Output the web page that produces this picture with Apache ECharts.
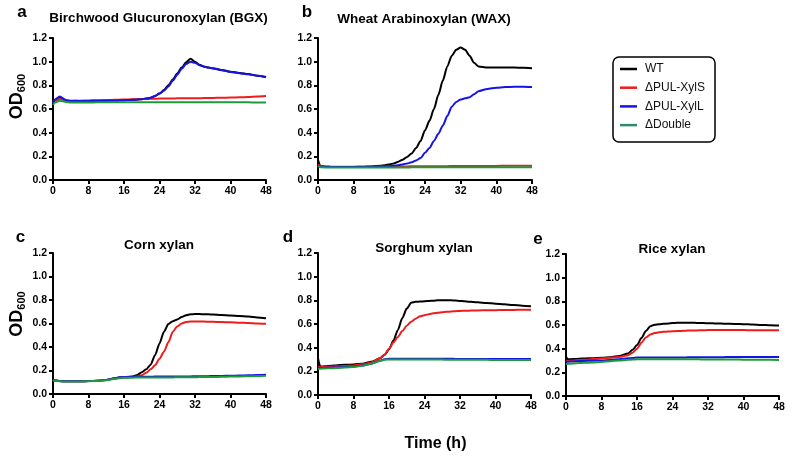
<!DOCTYPE html>
<html><head><meta charset="utf-8">
<script src="https://cdn.jsdelivr.net/npm/echarts@6/dist/echarts.min.js"></script>
<style>html,body{margin:0;padding:0;background:#fff}#c{width:800px;height:462px}</style>
</head><body><div id="c"></div>
<script>
// ---------- DATA ----------
const hours = [0,0.5,1.5,3,4,6,8,10,12,14,15,16,17,18,19,20,21,22,23,24,25,26,27,28,29,30,31,32,33,34,35,36,38,40,42,44,46,48];
const seriesNames = ['WT','ΔPUL-XylS','ΔPUL-XylL','ΔDouble'];
const panelLetters = ['a','b','c','d','e'];
const panelTitles = ['Birchwood Glucuronoxylan (BGX)','Wheat Arabinoxylan (WAX)','Corn xylan','Sorghum xylan','Rice xylan'];
const xTicks = [0,8,16,24,32,40,48];
const yTicks = [0,0.2,0.4,0.6,0.8,1.0,1.2];
const yLabel = 'OD';
const ySub = '600';
const xLabel = 'Time (h)';

// a: Birchwood Glucuronoxylan
const bgxWT     = [0.66,0.68,0.70,0.67,0.665,0.665,0.667,0.668,0.67,0.672,0.673,0.675,0.676,0.678,0.68,0.683,0.688,0.695,0.71,0.73,0.76,0.80,0.85,0.90,0.95,0.995,1.025,1.0,0.975,0.96,0.95,0.945,0.93,0.915,0.905,0.895,0.882,0.87];
const bgxXylS   = [0.65,0.67,0.685,0.67,0.668,0.67,0.672,0.674,0.676,0.678,0.679,0.68,0.681,0.682,0.683,0.684,0.685,0.686,0.687,0.688,0.688,0.689,0.689,0.69,0.69,0.69,0.69,0.69,0.691,0.692,0.693,0.694,0.695,0.697,0.699,0.701,0.706,0.71];
const bgxXylL   = [0.65,0.68,0.705,0.675,0.67,0.668,0.668,0.67,0.67,0.672,0.673,0.675,0.676,0.678,0.68,0.683,0.688,0.695,0.71,0.73,0.755,0.79,0.84,0.89,0.94,0.98,1.0,0.99,0.97,0.958,0.95,0.943,0.928,0.913,0.903,0.893,0.88,0.868];
const bgxDouble = [0.635,0.655,0.67,0.66,0.655,0.655,0.655,0.656,0.656,0.657,0.657,0.657,0.658,0.658,0.658,0.658,0.658,0.658,0.658,0.658,0.658,0.658,0.658,0.658,0.658,0.658,0.658,0.658,0.658,0.658,0.657,0.657,0.657,0.657,0.656,0.656,0.655,0.655];

// b: Wheat Arabinoxylan
const waxWT     = [0.17,0.12,0.112,0.11,0.11,0.11,0.11,0.112,0.115,0.12,0.125,0.132,0.14,0.155,0.172,0.195,0.225,0.27,0.33,0.42,0.50,0.60,0.72,0.84,0.96,1.05,1.10,1.12,1.10,1.05,0.99,0.96,0.95,0.95,0.95,0.95,0.948,0.945];
const waxXylS   = [0.13,0.12,0.113,0.112,0.112,0.112,0.112,0.113,0.113,0.114,0.114,0.114,0.115,0.115,0.115,0.115,0.116,0.116,0.116,0.116,0.117,0.117,0.117,0.117,0.117,0.118,0.118,0.118,0.118,0.118,0.119,0.119,0.119,0.119,0.12,0.12,0.12,0.12];
const waxXylL   = [0.12,0.115,0.112,0.11,0.11,0.11,0.11,0.11,0.111,0.112,0.114,0.116,0.12,0.125,0.132,0.14,0.15,0.165,0.185,0.23,0.27,0.33,0.39,0.46,0.54,0.62,0.66,0.68,0.69,0.70,0.725,0.75,0.77,0.78,0.785,0.787,0.787,0.785];
const waxDouble = [0.12,0.108,0.106,0.105,0.105,0.105,0.105,0.105,0.106,0.106,0.106,0.106,0.106,0.106,0.106,0.106,0.107,0.107,0.107,0.107,0.107,0.107,0.107,0.107,0.107,0.108,0.108,0.108,0.108,0.108,0.108,0.108,0.108,0.108,0.108,0.108,0.108,0.108];

// c: Corn xylan
const cornWT     = [0.12,0.115,0.11,0.108,0.108,0.108,0.11,0.112,0.12,0.133,0.14,0.142,0.145,0.15,0.162,0.185,0.21,0.25,0.33,0.43,0.53,0.595,0.62,0.635,0.655,0.67,0.678,0.68,0.68,0.679,0.678,0.676,0.672,0.668,0.664,0.66,0.652,0.645];
const cornXylS   = [0.12,0.115,0.11,0.108,0.108,0.108,0.11,0.112,0.12,0.133,0.14,0.142,0.143,0.145,0.15,0.16,0.18,0.21,0.245,0.30,0.36,0.44,0.53,0.575,0.60,0.612,0.618,0.618,0.617,0.616,0.615,0.614,0.612,0.61,0.607,0.604,0.601,0.598];
const cornXylL   = [0.12,0.115,0.11,0.108,0.108,0.108,0.11,0.112,0.12,0.135,0.142,0.145,0.146,0.147,0.147,0.147,0.147,0.147,0.148,0.148,0.148,0.148,0.149,0.149,0.15,0.15,0.15,0.151,0.151,0.152,0.152,0.153,0.154,0.155,0.157,0.159,0.161,0.163];
const cornDouble = [0.115,0.112,0.108,0.106,0.106,0.107,0.109,0.111,0.118,0.13,0.135,0.138,0.139,0.139,0.14,0.14,0.14,0.14,0.14,0.141,0.141,0.141,0.141,0.142,0.142,0.143,0.143,0.143,0.144,0.144,0.145,0.145,0.146,0.148,0.15,0.151,0.153,0.155];

// d: Sorghum xylan
const sorgWT     = [0.31,0.24,0.243,0.247,0.25,0.255,0.258,0.265,0.28,0.31,0.34,0.385,0.46,0.55,0.65,0.73,0.78,0.787,0.79,0.792,0.795,0.797,0.80,0.80,0.80,0.80,0.798,0.795,0.792,0.789,0.786,0.783,0.778,0.772,0.766,0.76,0.755,0.75];
const sorgXylS   = [0.24,0.235,0.238,0.24,0.242,0.245,0.25,0.26,0.275,0.31,0.34,0.39,0.445,0.49,0.54,0.585,0.62,0.645,0.665,0.675,0.683,0.69,0.695,0.70,0.703,0.706,0.708,0.71,0.712,0.713,0.714,0.715,0.716,0.717,0.718,0.719,0.72,0.72];
const sorgXylL   = [0.23,0.228,0.23,0.232,0.233,0.236,0.24,0.25,0.265,0.29,0.303,0.307,0.307,0.307,0.306,0.306,0.306,0.306,0.306,0.306,0.306,0.306,0.306,0.306,0.306,0.306,0.305,0.305,0.305,0.305,0.305,0.305,0.305,0.305,0.305,0.305,0.305,0.305];
const sorgDouble = [0.22,0.222,0.224,0.226,0.228,0.232,0.237,0.247,0.265,0.288,0.298,0.30,0.30,0.30,0.30,0.30,0.30,0.30,0.30,0.299,0.299,0.299,0.299,0.299,0.298,0.298,0.298,0.298,0.298,0.297,0.297,0.297,0.297,0.296,0.296,0.296,0.295,0.295];

// e: Rice xylan
const riceWT     = [0.33,0.31,0.312,0.315,0.317,0.32,0.323,0.328,0.338,0.36,0.39,0.43,0.49,0.55,0.59,0.603,0.607,0.61,0.613,0.616,0.618,0.62,0.62,0.619,0.618,0.617,0.616,0.615,0.614,0.613,0.612,0.611,0.609,0.607,0.604,0.601,0.598,0.595];
const riceXylS   = [0.29,0.295,0.30,0.305,0.307,0.312,0.318,0.323,0.33,0.345,0.365,0.40,0.45,0.495,0.52,0.532,0.538,0.542,0.545,0.547,0.549,0.55,0.552,0.553,0.554,0.555,0.556,0.557,0.557,0.557,0.557,0.557,0.557,0.557,0.556,0.556,0.555,0.555];
const riceXylL   = [0.29,0.29,0.292,0.295,0.296,0.298,0.30,0.305,0.31,0.318,0.322,0.325,0.325,0.325,0.325,0.325,0.325,0.325,0.326,0.326,0.326,0.326,0.326,0.327,0.327,0.327,0.327,0.328,0.328,0.328,0.328,0.329,0.329,0.33,0.33,0.33,0.33,0.33];
const riceDouble = [0.27,0.272,0.275,0.278,0.28,0.284,0.288,0.294,0.30,0.306,0.308,0.31,0.31,0.31,0.31,0.31,0.31,0.31,0.31,0.31,0.31,0.31,0.31,0.31,0.31,0.31,0.309,0.309,0.309,0.309,0.308,0.308,0.308,0.307,0.307,0.306,0.306,0.305];

const panelData = [
  [bgxWT, bgxXylS, bgxXylL, bgxDouble],
  [waxWT, waxXylS, waxXylL, waxDouble],
  [cornWT, cornXylS, cornXylL, cornDouble],
  [sorgWT, sorgXylS, sorgXylL, sorgDouble],
  [riceWT, riceXylS, riceXylL, riceDouble]
];

// ---------- LAYOUT / STYLE ----------
const FONT = '"Liberation Sans", Arial, Helvetica, sans-serif';
const colors = ['#000000', '#ee1c1c', '#1414e6', '#1f9a3a'];
const legendColors = ['#000000', '#ee1c1c', '#1414e6', '#2e8b6e'];
const grids = [
  {left: 53, top: 38, width: 213, height: 142},
  {left: 318, top: 38, width: 214, height: 142},
  {left: 53, top: 253, width: 213, height: 141},
  {left: 318, top: 253, width: 213, height: 142},
  {left: 566, top: 254, width: 213, height: 142}
];
const letterPos = [[22, 12], [307, 12], [20.5, 237], [288, 237], [538, 239]];
const titlePos = [[158.5, 18], [424, 19.5], [159, 245.5], [424, 248], [672, 249.5]];
const odPos = [[17, 96.5], [17, 314]];

const axisCommon = {
  axisLine: {show: true, onZero: false, lineStyle: {color: '#000', width: 2}},
  axisTick: {show: true, inside: false, length: 4, lineStyle: {color: '#000', width: 2}},
  splitLine: {show: false},
  axisLabel: {color: '#000', fontSize: 10.5, fontWeight: 'bold', fontFamily: FONT}
};

const option = {
  animation: false,
  backgroundColor: '#fff',
  grid: grids.map(g => Object.assign({containLabel: false, outerBoundsMode: 'none'}, g)),
  xAxis: grids.map((g, i) => ({
    gridIndex: i, type: 'value', min: xTicks[0], max: xTicks[xTicks.length - 1], interval: xTicks[1] - xTicks[0],
    axisLine: axisCommon.axisLine, axisTick: axisCommon.axisTick, splitLine: axisCommon.splitLine,
    axisLabel: Object.assign({margin: 6, showMinLabel: true, showMaxLabel: true}, axisCommon.axisLabel)
  })),
  yAxis: grids.map((g, i) => ({
    gridIndex: i, type: 'value', min: yTicks[0], max: yTicks[yTicks.length - 1], interval: yTicks[1] - yTicks[0],
    axisLine: axisCommon.axisLine, axisTick: axisCommon.axisTick, splitLine: axisCommon.splitLine,
    axisLabel: Object.assign({margin: 6, formatter: v => v.toFixed(1)}, axisCommon.axisLabel)
  })),
  legend: {
    orient: 'vertical', left: 620, top: 62, padding: 0, itemGap: 4.7,
    icon: 'rect', itemWidth: 17, itemHeight: 2.5,
    textStyle: {fontSize: 12, lineHeight: 14, color: '#111', fontFamily: FONT, padding: [0, 0, 0, 3]},
    data: seriesNames.map((n, k) => ({name: n, itemStyle: {color: legendColors[k]}}))
  },
  series: [],
  graphic: []
};

panelData.forEach((arrs, p) => {
  arrs.forEach((arr, k) => {
    option.series.push({
      type: 'line', name: seriesNames[k], xAxisIndex: p, yAxisIndex: p,
      data: hours.map((h, j) => [h, arr[j]]),
      symbol: 'none', smooth: 0.25, smoothMonotone: 'x',
      lineStyle: {color: colors[k], width: 2},
      itemStyle: {color: colors[k]},
      z: 2 + k
    });
  });
});

panelLetters.forEach((l, p) => {
  option.graphic.push({type: 'text', x: letterPos[p][0], y: letterPos[p][1],
    style: {text: l, fontSize: 17, fontWeight: 'bold', fontFamily: FONT, fill: '#000', align: 'center', verticalAlign: 'middle'}});
  option.graphic.push({type: 'text', x: titlePos[p][0], y: titlePos[p][1],
    style: {text: panelTitles[p], fontSize: 13.5, fontWeight: 'bold', fontFamily: FONT, fill: '#000', align: 'center', verticalAlign: 'middle'}});
});
odPos.forEach(pos => {
  option.graphic.push({type: 'text', x: pos[0], y: pos[1], rotation: Math.PI / 2,
    style: {text: '{a|' + yLabel + '}{b|' + ySub + '}', fill: '#000', align: 'center', verticalAlign: 'middle',
      rich: {a: {fontSize: 18, fontWeight: 'bold', fontFamily: FONT, fill: '#000', lineHeight: 20},
             b: {fontSize: 11, fontWeight: 'bold', fontFamily: FONT, fill: '#000', lineHeight: 20, verticalAlign: 'bottom', padding: [6, 0, 0, 0]}}}});
});
option.graphic.push({type: 'text', x: 435.5, y: 443.5,
  style: {text: xLabel, fontSize: 16, fontWeight: 'bold', fontFamily: FONT, fill: '#000', align: 'center', verticalAlign: 'middle'}});
option.graphic.push({type: 'rect', shape: {x: 613, y: 57, width: 102, height: 85, r: 6},
  style: {fill: 'none', stroke: '#000', lineWidth: 1.5}});

const chart = echarts.init(document.getElementById('c'), null, {renderer: 'canvas'});
chart.setOption(option);
</script></body></html>
